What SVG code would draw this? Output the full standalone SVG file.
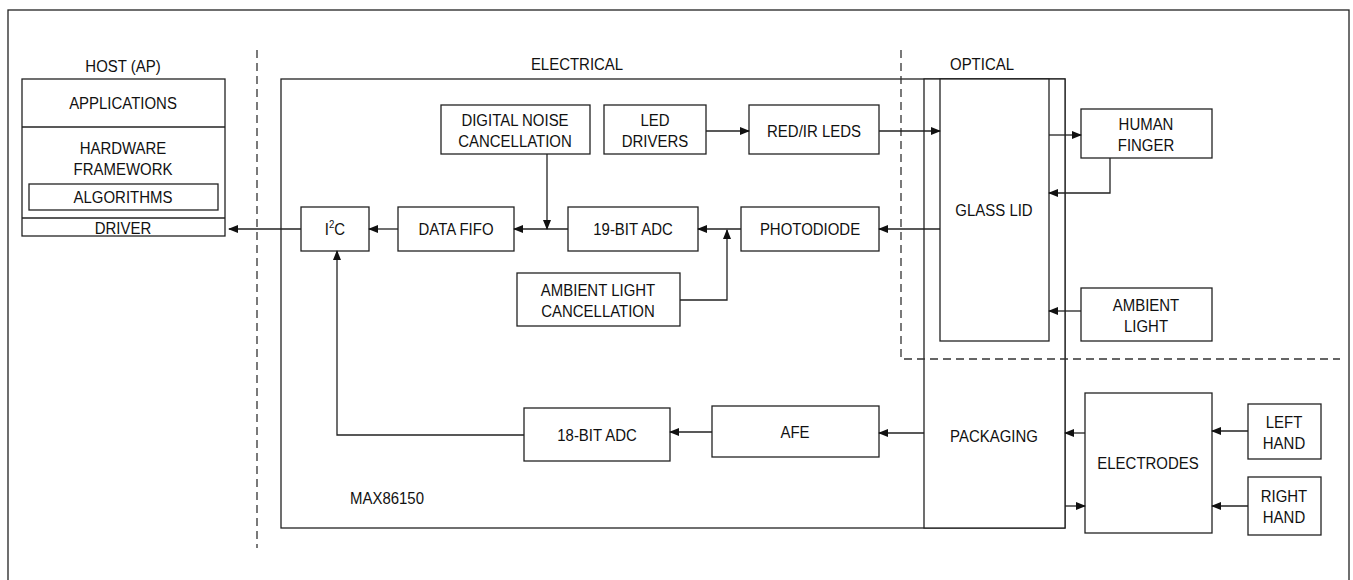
<svg xmlns="http://www.w3.org/2000/svg" width="1353" height="580" viewBox="0 0 1353 580">
<style>
text{font-family:"Liberation Sans",Arial,sans-serif;font-size:17px;fill:#111;text-anchor:middle}
.b{fill:#fff;stroke:#222;stroke-width:1.3}
.n{fill:none;stroke:#222;stroke-width:1.3}
.c{fill:none;stroke:#222;stroke-width:1.3;marker-end:url(#ah)}
.d{fill:none;stroke:#333;stroke-width:1.3;stroke-dasharray:8 5}
</style>
<defs>
<marker id="ah" markerWidth="10" markerHeight="8" refX="9" refY="4" orient="auto" markerUnits="userSpaceOnUse">
<path d="M0,0 L10,4 L0,8 Z" fill="#111"/>
</marker>
</defs>
<rect x="0" y="0" width="1353" height="580" fill="#fff"/>
<rect x="8" y="10" width="1341" height="600" class="n"/>
<g id="labels">
<text transform="translate(123,72) scale(.88,1)">HOST (AP)</text>
<text transform="translate(577,70) scale(.88,1)">ELECTRICAL</text>
<text transform="translate(982,70) scale(.88,1)">OPTICAL</text>
<text transform="translate(350,504) scale(.88,1)" style="text-anchor:start">MAX86150</text>
</g>
<g id="host">
<rect x="22" y="79" width="203" height="157" class="b"/>
<line x1="22" y1="127" x2="225" y2="127" class="n"/>
<line x1="22" y1="218" x2="225" y2="218" class="n"/>
<text transform="translate(123,109) scale(.88,1)">APPLICATIONS</text>
<text transform="translate(123,154) scale(.88,1)">HARDWARE</text>
<text transform="translate(123,175) scale(.88,1)">FRAMEWORK</text>
<rect x="29" y="184" width="189" height="26" class="b"/>
<text transform="translate(123,203) scale(.88,1)">ALGORITHMS</text>
<text transform="translate(123,234) scale(.88,1)">DRIVER</text>
</g>
<g id="max86150">
<rect x="281" y="79" width="784" height="449" class="n"/>
</g>
<g id="packaging">
<rect x="924" y="79" width="141" height="449" class="b"/>
<text transform="translate(994,442) scale(.88,1)">PACKAGING</text>
</g>
<g id="glass-lid">
<rect x="940" y="79" width="109" height="262" class="b"/>
<text transform="translate(994,216) scale(.88,1)">GLASS LID</text>
</g>
<g id="i2c">
<rect x="301" y="207" width="68" height="44" class="b"/>
<text transform="translate(335,235) scale(.88,1)">I<tspan dy="-7" font-size="11">2</tspan><tspan dy="7">C</tspan></text>
</g>
<g id="data-fifo">
<rect x="398" y="207" width="116" height="44" class="b"/>
<text transform="translate(456,235) scale(.88,1)">DATA FIFO</text>
</g>
<g id="adc19">
<rect x="568" y="207" width="130" height="44" class="b"/>
<text transform="translate(633,235) scale(.88,1)">19-BIT ADC</text>
</g>
<g id="photodiode">
<rect x="741" y="207" width="138" height="44" class="b"/>
<text transform="translate(810,235) scale(.88,1)">PHOTODIODE</text>
</g>
<g id="dnc">
<rect x="441" y="105" width="149" height="49" class="b"/>
<text transform="translate(515,126) scale(.88,1)">DIGITAL NOISE</text>
<text transform="translate(515,147) scale(.88,1)">CANCELLATION</text>
</g>
<g id="led-drivers">
<rect x="604" y="105" width="102" height="49" class="b"/>
<text transform="translate(655,126) scale(.88,1)">LED</text>
<text transform="translate(655,147) scale(.88,1)">DRIVERS</text>
</g>
<g id="red-ir-leds">
<rect x="749" y="105" width="130" height="49" class="b"/>
<text transform="translate(814,137) scale(.88,1)">RED/IR LEDS</text>
</g>
<g id="alc">
<rect x="517" y="273" width="163" height="53" class="b"/>
<text transform="translate(598,296) scale(.88,1)">AMBIENT LIGHT</text>
<text transform="translate(598,317) scale(.88,1)">CANCELLATION</text>
</g>
<g id="human-finger">
<rect x="1081" y="109" width="131" height="49" class="b"/>
<text transform="translate(1146,130) scale(.88,1)">HUMAN</text>
<text transform="translate(1146,151) scale(.88,1)">FINGER</text>
</g>
<g id="ambient-light">
<rect x="1081" y="288" width="131" height="53" class="b"/>
<text transform="translate(1146,311) scale(.88,1)">AMBIENT</text>
<text transform="translate(1146,332) scale(.88,1)">LIGHT</text>
</g>
<g id="adc18">
<rect x="524" y="408" width="146" height="53" class="b"/>
<text transform="translate(597,441) scale(.88,1)">18-BIT ADC</text>
</g>
<g id="afe">
<rect x="712" y="406" width="167" height="51" class="b"/>
<text transform="translate(795,438) scale(.88,1)">AFE</text>
</g>
<g id="electrodes">
<rect x="1085" y="393" width="127" height="140" class="b"/>
<text transform="translate(1148,469) scale(.88,1)">ELECTRODES</text>
</g>
<g id="left-hand">
<rect x="1248" y="404" width="73" height="55" class="b"/>
<text transform="translate(1284,428) scale(.88,1)">LEFT</text>
<text transform="translate(1284,449) scale(.88,1)">HAND</text>
</g>
<g id="right-hand">
<rect x="1248" y="477" width="73" height="58" class="b"/>
<text transform="translate(1284,502) scale(.88,1)">RIGHT</text>
<text transform="translate(1284,523) scale(.88,1)">HAND</text>
</g>
<g id="regions">
<line x1="257" y1="50" x2="257" y2="548" class="d"/>
<polyline points="901,50 901,359 1340,359" class="d"/>
</g>
<g id="connectors">
<line x1="301" y1="229" x2="229" y2="229" class="c"/>
<line x1="398" y1="229" x2="369" y2="229" class="c"/>
<line x1="568" y1="229" x2="514" y2="229" class="c"/>
<line x1="547" y1="154" x2="547" y2="229" class="c"/>
<line x1="741" y1="229" x2="698" y2="229" class="c"/>
<polyline points="680,300 727,300 727,230" class="c"/>
<line x1="940" y1="229" x2="879" y2="229" class="c"/>
<line x1="706" y1="131" x2="749" y2="131" class="c"/>
<line x1="879" y1="131" x2="940" y2="131" class="c"/>
<line x1="1049" y1="135" x2="1081" y2="135" class="c"/>
<polyline points="1110,158 1110,193 1049,193" class="c"/>
<line x1="1081" y1="311" x2="1049" y2="311" class="c"/>
<line x1="924" y1="433" x2="879" y2="433" class="c"/>
<line x1="712" y1="432" x2="670" y2="432" class="c"/>
<polyline points="524,435 337,435 337,251" class="c"/>
<line x1="1085" y1="433" x2="1065" y2="433" class="c"/>
<line x1="1065" y1="506" x2="1085" y2="506" class="c"/>
<line x1="1248" y1="431" x2="1212" y2="431" class="c"/>
<line x1="1248" y1="506" x2="1212" y2="506" class="c"/>
</g>
</svg>
